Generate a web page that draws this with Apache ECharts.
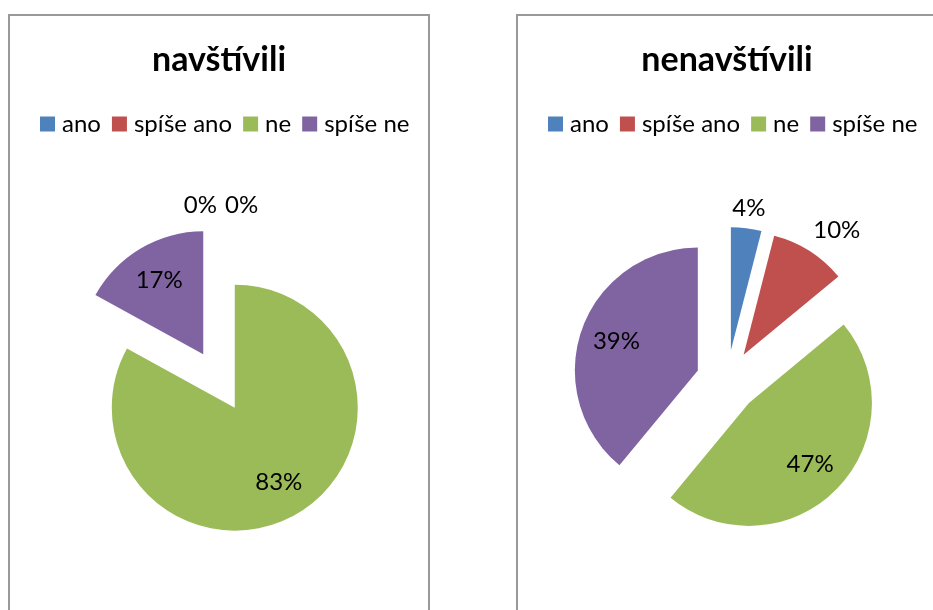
<!DOCTYPE html>
<html>
<head>
<meta charset="utf-8">
<script src="https://cdn.jsdelivr.net/npm/echarts@6/dist/echarts.min.js"></script>
<style>
  html, body {
    margin: 0;
    padding: 0;
    width: 933px;
    height: 610px;
    overflow: hidden;
    background: #fff;
  }
  .panel {
    position: absolute;
    top: 14px;
    width: 422px;
    height: 640px;
    box-sizing: border-box;
    border: 2px solid #999;
    background: #fff;
  }
  #chart-visited {
    left: 8px;
  }
  #chart-not-visited {
    left: 516px;
  }
</style>
</head>
<body>
<div id="chart-visited" class="panel"></div>
<div id="chart-not-visited" class="panel"></div>
<script>
// odpovědi (kategorie)
const answers = ['ano', 'spíše ano', 'ne', 'spíše ne'];
// podíly v %
const visited = [0, 0, 83, 17];
const notVisited = [4, 10, 47, 39];

const colors = ['#4F81BD', '#C0504D', '#9BBB59', '#8064A2'];
const fontFamily = 'Lato, "Open Sans", sans-serif';

// popisky: velké výseče uvnitř (posunuté ven jako v Excelu), malé venku
function labelLayoutFor(values) {
  const total = values.reduce((a, b) => a + b, 0);
  return function (params) {
    const i = params.dataIndex;
    const before = values.slice(0, i).reduce((a, b) => a + b, 0);
    const mid = ((before + values[i] / 2) / total) * Math.PI * 2;
    const sx = Math.sin(mid);
    const sy = -Math.cos(mid);
    if (values[i] / total >= 0.15) {
      return { dx: sx * 22, dy: sy * 22 };
    }
    if (values[i] === 0) {
      // nulové výseče leží obě nahoře, rozdělit je do stran
      return i === 0 ? { dx: 3, dy: -2 } : { dx: params.labelRect.width + 11, dy: -2 };
    }
    if (Math.abs(sx) < 0.3) {
      return { align: 'center', dx: -5 };
    }
    return { dx: -12, dy: -4 };
  };
}

function initPie(domId, title, values) {
  const total = values.reduce((a, b) => a + b, 0);
  const data = answers.map((name, i) => ({
    name: name,
    value: values[i],
    selected: true,
    label: {
      position: values[i] / total >= 0.15 ? 'inside' : 'outside',
    },
  }));
  const option = {
    animation: false,
    color: colors,
    title: {
      text: title,
      left: 'center',
      top: 22,
      textStyle: {
        fontFamily: fontFamily,
        fontSize: 34,
        fontWeight: 'bold',
        color: '#000',
      },
    },
    legend: {
      left: 25,
      top: 91,
      icon: 'rect',
      itemWidth: 15,
      itemHeight: 15,
      itemGap: 11,
      selectedMode: false,
      data: answers,
      textStyle: {
        fontFamily: fontFamily,
        fontSize: 24,
        color: '#000',
        padding: [0, 0, 0, 2],
      },
    },
    series: [
      {
        type: 'pie',
        center: ['50%', 365],
        radius: 123,
        startAngle: 90,
        clockwise: true,
        selectedMode: 'multiple',
        selectedOffset: 31,
        avoidLabelOverlap: false,
        percentPrecision: 0,
        silent: true,
        emphasis: { disabled: true },
        select: { itemStyle: { borderWidth: 0 } },
        label: {
          show: true,
          formatter: '{d}%',
          fontFamily: fontFamily,
          fontSize: 24,
          color: '#000',
          distanceToLabelLine: 5,
        },
        labelLine: {
          show: false,
          length: 20,
          length2: 0,
        },
        labelLayout: labelLayoutFor(values),
        data: data,
      },
    ],
  };
  const chart = echarts.init(document.getElementById(domId), null, { renderer: 'canvas' });
  chart.setOption(option);
  return chart;
}

initPie('chart-visited', 'navštívili', visited);
initPie('chart-not-visited', 'nenavštívili', notVisited);
</script>
</body>
</html>
